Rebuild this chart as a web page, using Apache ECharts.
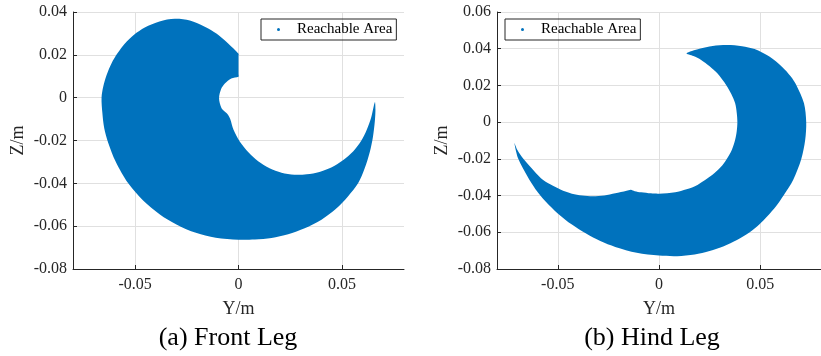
<!DOCTYPE html>
<html>
<head>
<meta charset="utf-8">
<script src="https://cdn.jsdelivr.net/npm/echarts@6/dist/echarts.min.js"></script>
<style>
  html, body { margin: 0; padding: 0; background: #fff; }
  #chart { width: 821px; height: 356px; }
</style>
</head>
<body>
<div id="chart"></div>
<script>
// boundary of the reachable area, [Y, Z] in metres
const frontLeg = [
  [0.0000, 0.0205], [-0.0050, 0.0253], [-0.0105, 0.0298], [-0.0163, 0.0331],
  [-0.0235, 0.0360], [-0.0308, 0.0368], [-0.0382, 0.0356], [-0.0453, 0.0328],
  [-0.0505, 0.0294], [-0.0549, 0.0253], [-0.0585, 0.0207], [-0.0614, 0.0160],
  [-0.0638, 0.0105], [-0.0654, 0.0051], [-0.0662, 0.0000], [-0.0658, -0.0072],
  [-0.0649, -0.0143], [-0.0630, -0.0210], [-0.0594, -0.0298], [-0.0533, -0.0400],
  [-0.0461, -0.0480], [-0.0380, -0.0545], [-0.0300, -0.0592], [-0.0210, -0.0630],
  [-0.0110, -0.0654], [0.0000, -0.0663], [0.0079, -0.0662], [0.0160, -0.0655],
  [0.0240, -0.0638], [0.0320, -0.0610], [0.0401, -0.0570], [0.0470, -0.0520],
  [0.0529, -0.0461], [0.0578, -0.0400], [0.0610, -0.0330], [0.0635, -0.0252],
  [0.0650, -0.0182], [0.0659, -0.0110], [0.0662, -0.0055], [0.0659, -0.0021],
  [0.0642, -0.0090], [0.0620, -0.0150], [0.0594, -0.0200], [0.0555, -0.0250],
  [0.0505, -0.0292], [0.0451, -0.0325], [0.0391, -0.0347], [0.0330, -0.0358],
  [0.0270, -0.0360], [0.0208, -0.0350], [0.0150, -0.0329], [0.0095, -0.0297],
  [0.0049, -0.0256], [0.0005, -0.0203], [-0.0024, -0.0150], [-0.0040, -0.0100],
  [-0.0050, -0.0081], [-0.0058, -0.0072], [-0.0082, -0.0049], [-0.0094, -0.0003],
  [-0.0084, 0.0040], [-0.0066, 0.0066], [-0.0035, 0.0090], [0.0000, 0.0098],
  [0.0000, 0.0110], [0.0000, 0.0195]
];

const hindLeg = [
  [0.0136, 0.0375], [0.0200, 0.0400], [0.0265, 0.0415], [0.0336, 0.0420],
  [0.0410, 0.0414], [0.0472, 0.0398], [0.0545, 0.0357], [0.0607, 0.0302],
  [0.0650, 0.0250], [0.0679, 0.0200], [0.0716, 0.0103], [0.0727, 0.0000],
  [0.0722, -0.0096], [0.0703, -0.0200], [0.0663, -0.0314], [0.0615, -0.0400],
  [0.0578, -0.0458], [0.0535, -0.0513], [0.0495, -0.0558], [0.0448, -0.0600],
  [0.0385, -0.0642], [0.0320, -0.0676], [0.0250, -0.0702], [0.0176, -0.0721],
  [0.0090, -0.0730], [0.0000, -0.0727], [-0.0110, -0.0712], [-0.0216, -0.0680],
  [-0.0290, -0.0648], [-0.0360, -0.0607], [-0.0430, -0.0558], [-0.0500, -0.0497],
  [-0.0560, -0.0432], [-0.0610, -0.0365], [-0.0650, -0.0295], [-0.0695, -0.0200],
  [-0.0714, -0.0114],
  [-0.0700, -0.0150], [-0.0671, -0.0198], [-0.0630, -0.0250], [-0.0583, -0.0305],
  [-0.0535, -0.0340], [-0.0487, -0.0367], [-0.0430, -0.0390], [-0.0380, -0.0400],
  [-0.0327, -0.0404], [-0.0270, -0.0400], [-0.0216, -0.0388], [-0.0160, -0.0374],
  [-0.0139, -0.0368], [-0.0120, -0.0376], [-0.0088, -0.0382], [-0.0040, -0.0388],
  [0.0000, -0.0390], [0.0080, -0.0382], [0.0136, -0.0366], [0.0190, -0.0342],
  [0.0264, -0.0287], [0.0305, -0.0245], [0.0333, -0.0203], [0.0360, -0.0150],
  [0.0376, -0.0096], [0.0384, -0.0048], [0.0387, 0.0000], [0.0384, 0.0050],
  [0.0376, 0.0103], [0.0357, 0.0153], [0.0333, 0.0200], [0.0288, 0.0266],
  [0.0250, 0.0305], [0.0208, 0.0339], [0.0170, 0.0360]
];

const xTicks = [-0.05, 0, 0.05];
const seriesName = 'Reachable Area';
const captions = ['(a) Front Leg', '(b) Hind Leg'];

const blue = '#0072BD';
const ink = '#262626';
const serif = 'Liberation Serif';

function shapeSeries(pts, idx) {
  return {
    name: seriesName,
    type: 'custom',
    xAxisIndex: idx,
    yAxisIndex: idx,
    itemStyle: { color: blue },
    data: pts,
    encode: { x: 0, y: 1 },
    renderItem: function (params, api) {
      if (params.dataIndex !== 0) return null;
      return {
        type: 'polygon',
        shape: { points: pts.map(p => api.coord(p)), smooth: 0.3 },
        style: { fill: blue }
      };
    }
  };
}

function xAxis(idx) {
  return {
    type: 'value', gridIndex: idx, min: -0.08, max: 0.08,
    name: 'Y/m', nameLocation: 'middle', nameGap: 31,
    nameTextStyle: { fontFamily: serif, fontSize: 18, color: ink },
    axisLine: { show: true, onZero: false, lineStyle: { color: ink, width: 1 } },
    axisTick: { show: true, inside: true, length: 4, customValues: xTicks, lineStyle: { color: ink } },
    axisLabel: { customValues: xTicks, margin: 8, fontFamily: serif, fontSize: 16, color: ink },
    splitLine: { show: true, lineStyle: { color: '#e0e0e0' } }
  };
}

function yAxis(idx, max) {
  return {
    type: 'value', gridIndex: idx, min: -0.08, max: max, interval: 0.02,
    name: 'Z/m', nameLocation: 'middle', nameGap: 46,
    nameTextStyle: { fontFamily: serif, fontSize: 18, color: ink },
    axisLine: { show: true, onZero: false, lineStyle: { color: ink, width: 1 } },
    axisTick: { show: true, inside: true, length: 4, lineStyle: { color: ink } },
    axisLabel: { margin: 6, fontFamily: serif, fontSize: 16, color: ink },
    splitLine: { show: true, lineStyle: { color: '#e0e0e0' } }
  };
}

function legend(idx, left) {
  return {
    seriesIndex: idx,
    data: [seriesName],
    left: left, top: 19,
    icon: 'circle', itemWidth: 3, itemHeight: 3,
    borderColor: ink, borderWidth: 1, borderRadius: 0,
    padding: [3, 4, 3, 16],
    textStyle: { fontFamily: serif, fontSize: 15, color: '#000', padding: [0, 0, 0, 12] }
  };
}

const chart = echarts.init(document.getElementById('chart'));
chart.setOption({
  animation: false,
  backgroundColor: '#fff',
  grid: [
    { left: 73, top: 12, width: 331, height: 257 },
    { left: 497, top: 12, width: 334, height: 257 }
  ],
  xAxis: [xAxis(0), xAxis(1)],
  yAxis: [yAxis(0, 0.04), yAxis(1, 0.06)],
  legend: [legend(0, 261), legend(1, 505)],
  graphic: [
    { type: 'text', x: 228, y: 338, style: { text: captions[0], align: 'center', verticalAlign: 'middle', font: '26px "Liberation Serif"', fill: '#000' } },
    { type: 'text', x: 652, y: 338, style: { text: captions[1], align: 'center', verticalAlign: 'middle', font: '26px "Liberation Serif"', fill: '#000' } }
  ],
  series: [shapeSeries(frontLeg, 0), shapeSeries(hindLeg, 1)]
});
</script>
</body>
</html>
